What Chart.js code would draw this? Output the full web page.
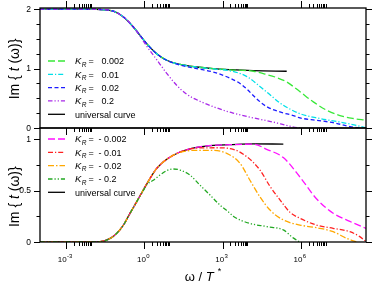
<!DOCTYPE html>
<html><head><meta charset="utf-8">
<script src="https://cdn.jsdelivr.net/npm/chart.js@4/dist/chart.umd.min.js"></script>
<style>
html,body{margin:0;padding:0;background:#fff;}
#wrap{position:relative;width:374px;height:283px;overflow:hidden;}
canvas{position:absolute;left:0;}
#c1{top:0;}
#c2{top:120px;}
</style></head><body>
<div id="wrap"><canvas id="c1" width="374" height="136"></canvas><canvas id="c2" width="374" height="163"></canvas></div>
<script>
// ---- axes ----
const xMinExp = -4, xMaxExp = 8.5;
const xMajorExp = [-3, 0, 3, 6];
const xTickLabelsExp = ['-3', '0', '3', '6'];
const topYTicks = [0, 1, 2];
const topYLabels = ['0', '1', '2'];
const botYTicks = [0, 0.5, 1];
const botYLabels = ['0', '0.5', '1'];
const yMinorStep = 0.25;

// ---- top panel (K_R > 0), x given as log10(omega/T*) ----
const uniTopExp = [-4, -2.5, -1.7, -1.19, -0.8, -0.42, -0.165, 0.09, 0.475, 0.86, 1.37, 2.01, 2.64, 3.28, 4.18, 5.46];
const uniTopVal = [2.0, 2.0, 1.995, 1.966, 1.87, 1.70, 1.56, 1.42, 1.25, 1.14, 1.07, 1.027, 1.0, 0.983, 0.966, 0.955];

const kp002Exp = [-4, -2.5, -1.7, -1.19, -0.8, -0.42, -0.165, 0.09, 0.475, 0.86, 1.37, 2.01, 2.64, 3.28, 4.18, 4.69, 5.07, 5.46, 5.97, 6.48, 6.99, 7.5, 8.01, 8.5];
const kp002Val = [2.0, 2.0, 1.995, 1.966, 1.87, 1.70, 1.56, 1.42, 1.25, 1.14, 1.07, 1.027, 1.0, 0.98, 0.955, 0.90, 0.85, 0.775, 0.61, 0.44, 0.30, 0.21, 0.16, 0.13];

const kp01Exp = [-4, -2.5, -1.7, -1.19, -0.8, -0.42, -0.165, 0.09, 0.475, 0.86, 1.37, 2.01, 2.64, 3.28, 3.92, 4.43, 4.82, 5.2, 5.58, 5.97, 6.73, 7.5, 8.26, 8.5];
const kp01Val = [2.0, 2.0, 1.995, 1.966, 1.87, 1.70, 1.56, 1.42, 1.25, 1.14, 1.07, 1.025, 0.995, 0.963, 0.87, 0.70, 0.56, 0.42, 0.32, 0.24, 0.16, 0.10, 0.03, 0.0];

const kp02Exp = [-4, -2.5, -1.7, -1.19, -0.8, -0.42, -0.165, 0.09, 0.475, 0.86, 1.37, 2.01, 2.64, 3.28, 3.67, 3.92, 4.31, 4.69, 5.2, 5.71, 5.97, 6.6, 7.24, 7.88, 8.39, 8.5];
const kp02Val = [2.0, 2.0, 1.995, 1.966, 1.87, 1.70, 1.56, 1.42, 1.25, 1.14, 1.06, 1.0, 0.943, 0.84, 0.75, 0.66, 0.49, 0.36, 0.27, 0.21, 0.17, 0.13, 0.09, 0.025, -0.01, -0.02];

const kp2Exp = [-4, -2.5, -1.7, -1.19, -0.8, -0.42, -0.165, 0.09, 0.475, 0.86, 1.24, 1.62, 2.13, 2.64, 3.16, 3.41, 4.18, 4.94, 5.58, 5.97, 6.5, 7.0];
const kp2Val = [2.0, 2.0, 1.995, 1.966, 1.87, 1.70, 1.55, 1.38, 1.15, 0.92, 0.72, 0.57, 0.45, 0.36, 0.28, 0.25, 0.17, 0.10, 0.03, 0.0, -0.03, -0.05];

// ---- bottom panel (K_R < 0) ----
const uniBotExp = [-4, -2.5, -1.7, -1.31, -1.06, -0.8, -0.55, -0.29, -0.04, 0.22, 0.475, 0.86, 1.37, 2.01, 2.64, 3.28, 4.18, 5.33];
const uniBotVal = [0, 0.0, 0.003, 0.035, 0.084, 0.165, 0.278, 0.392, 0.505, 0.618, 0.715, 0.803, 0.874, 0.919, 0.939, 0.945, 0.952, 0.951];

const km002Exp = [-4, -2.5, -1.7, -1.31, -1.06, -0.8, -0.55, -0.29, -0.04, 0.22, 0.475, 0.86, 1.37, 2.01, 2.64, 3.28, 4.18, 4.69, 5.33, 5.97, 6.6, 7.24, 7.88, 8.52];
const km002Val = [0, 0.0, 0.003, 0.035, 0.084, 0.165, 0.278, 0.392, 0.505, 0.618, 0.715, 0.803, 0.874, 0.919, 0.939, 0.945, 0.95, 0.90, 0.82, 0.63, 0.42, 0.28, 0.20, 0.13];

const km01Exp = [-4, -2.5, -1.7, -1.31, -1.06, -0.8, -0.55, -0.29, -0.04, 0.22, 0.475, 0.86, 1.37, 2.01, 2.77, 3.41, 3.92, 4.43, 4.82, 5.2, 5.58, 5.97, 6.6, 7.24, 7.88, 8.26, 8.52];
const km01Val = [0, 0.0, 0.003, 0.035, 0.084, 0.165, 0.278, 0.392, 0.505, 0.618, 0.715, 0.803, 0.873, 0.912, 0.915, 0.90, 0.83, 0.70, 0.54, 0.41, 0.29, 0.23, 0.165, 0.133, 0.10, 0.052, 0.0];

const km02Exp = [-4, -2.5, -1.7, -1.31, -1.06, -0.8, -0.55, -0.29, -0.04, 0.22, 0.475, 0.86, 1.37, 2.01, 2.64, 3.16, 3.67, 4.05, 4.43, 4.82, 5.33, 5.97, 6.73, 7.24, 7.75, 8.14];
const km02Val = [0, 0.0, 0.003, 0.035, 0.084, 0.165, 0.278, 0.392, 0.505, 0.618, 0.715, 0.803, 0.870, 0.89, 0.89, 0.861, 0.764, 0.60, 0.44, 0.31, 0.214, 0.165, 0.133, 0.10, 0.036, 0.0];

const km2Exp = [-4, -2.5, -1.7, -1.31, -1.06, -0.8, -0.55, -0.29, -0.04, 0.09, 0.345, 0.60, 0.86, 1.11, 1.37, 1.75, 2.13, 2.52, 2.90, 3.28, 3.41, 4.05, 4.69, 5.33, 5.71, 5.97, 6.5];
const km2Val = [0, 0.0, 0.003, 0.035, 0.084, 0.165, 0.278, 0.392, 0.50, 0.555, 0.60, 0.65, 0.693, 0.709, 0.699, 0.65, 0.553, 0.456, 0.359, 0.28, 0.25, 0.18, 0.15, 0.117, 0.04, 0.0, -0.03];

const topLegend = ['0.002', '0.01', '0.02', '0.2'];
const botLegend = ['- 0.002', '- 0.01', '- 0.02', '- 0.2'];

const FONT = '"Liberation Sans", Arial, Helvetica, sans-serif';

function pts(ex, vals) { return ex.map((e, i) => ({ x: Math.pow(10, e), y: vals[i] })); }
function ds(ex, vals, color, dash, order) {
  return { data: pts(ex, vals), borderColor: color, borderWidth: 1.3, borderDash: dash,
    pointRadius: 0, fill: false, cubicInterpolationMode: 'monotone', order: order };
}

function drawParts(ctx, parts, x, y, align) {
  let total = 0;
  parts.forEach(p => { ctx.font = p.font; p.w = ctx.measureText(p.t).width; total += p.w + (p.gap || 0); });
  let cx = align === 'center' ? x - total / 2 : (align === 'right' ? x - total : x);
  ctx.textAlign = 'left';
  parts.forEach(p => { ctx.font = p.font; ctx.fillText(p.t, cx + (p.gap || 0), y + (p.dy || 0)); cx += p.w + (p.gap || 0); });
}

function makeAxesPlugin(cfg) {
  return {
    id: 'axesFrame' + cfg.name,
    afterDatasetsDraw(chart) {
      const ctx = chart.ctx, a = chart.chartArea;
      const xs = chart.scales.x, ys = chart.scales.y;
      ctx.save();
      ctx.strokeStyle = '#000'; ctx.fillStyle = '#000';
      ctx.lineWidth = 1.3;
      ctx.strokeRect(a.left, a.top, a.right - a.left, a.bottom - a.top);
      ctx.lineWidth = 1;
      // x ticks
      const xt = [];
      xMajorExp.forEach(e => {
        xt.push({ v: Math.pow(10, e), len: 7 });
        for (let m = 2; m <= 9; m++) xt.push({ v: m * Math.pow(10, e), len: 4 });
      });
      ctx.beginPath();
      xt.forEach(t => {
        const px = Math.round(xs.getPixelForValue(t.v)) + 0.5;
        if (cfg.xTop) { ctx.moveTo(px, a.top); ctx.lineTo(px, a.top - t.len); }
        ctx.moveTo(px, a.bottom); ctx.lineTo(px, a.bottom + t.len);
      });
      // y ticks
      for (let v = 0; v <= cfg.ymax + 1e-9; v += yMinorStep) {
        const major = cfg.yTicks.some(t => Math.abs(t - v) < 1e-9);
        const len = major ? 6 : 3.5;
        const py = Math.round(ys.getPixelForValue(v)) + 0.5;
        ctx.moveTo(a.left, py); ctx.lineTo(a.left - len, py);
        ctx.moveTo(a.right, py); ctx.lineTo(a.right + len, py);
      }
      ctx.stroke();
      // y labels
      ctx.font = '8.5px ' + FONT; ctx.textAlign = 'right'; ctx.textBaseline = 'middle';
      cfg.yTicks.forEach((v, i) => ctx.fillText(cfg.yLabels[i], a.left - 9, ys.getPixelForValue(v) + 0.5));
      ctx.textBaseline = 'alphabetic';
      // x labels
      if (cfg.xLabels) {
        xMajorExp.forEach((e, i) => {
          const px = xs.getPixelForValue(Math.pow(10, e));
          drawParts(ctx, [
            { t: '10', font: '8px ' + FONT },
            { t: xTickLabelsExp[i], font: '6px ' + FONT, dy: -4, gap: 0.3 }
          ], px - 1, a.bottom + 20.3, 'center');
        });
        // x title
        drawParts(ctx, [
          { t: 'ω / ', font: '13px ' + FONT },
          { t: 'T', font: 'italic 13px ' + FONT },
          { t: '*', font: '9px ' + FONT, dy: -7, gap: 4 }
        ], 203, a.bottom + 39, 'center');
      }
      // y title
      ctx.save();
      ctx.translate(18.5, cfg.titleY);
      ctx.rotate(-Math.PI / 2);
      drawParts(ctx, [
        { t: 'Im { ', font: '14px ' + FONT },
        { t: 't', font: 'italic 14px ' + FONT },
        { t: ' (ω)}', font: '14px ' + FONT }
      ], 0, 0, 'center');
      ctx.restore();
      // legend
      const items = cfg.legend;
      items.forEach((it, i) => {
        const y = cfg.legendY[i];
        ctx.beginPath();
        ctx.strokeStyle = it.color; ctx.lineWidth = 1.3;
        ctx.setLineDash(it.dash || []);
        ctx.moveTo(48, y); ctx.lineTo(65, y); ctx.stroke();
        ctx.setLineDash([]);
        ctx.fillStyle = '#000';
        if (it.label) {
          drawParts(ctx, [{ t: it.label, font: '9px ' + FONT }], 75, y + 3.2, 'left');
        } else {
          drawParts(ctx, [
            { t: 'K', font: 'italic 9.5px ' + FONT },
            { t: 'R', font: 'italic 6.5px ' + FONT, dy: 2.5, gap: 0.3 }
          ], 75, y + 3.2, 'left');
          ctx.font = '9px ' + FONT; ctx.textAlign = 'left';
          ctx.fillText('=', 88.5, y + 3.2);
          ctx.fillText(it.value, cfg.valX, y + 3.2);
        }
      });
      ctx.restore();
    }
  };
}

const dashLong = [7, 3], dashDot = [5, 2, 1.2, 2], dashShort = [4, 2.5], dashDotDot = [4.5, 2, 1.2, 2, 1.2, 2];
const dashDotO = [6, 2, 1.5, 2];

const common = (padTop, padBottom, ymax) => ({
  responsive: false, animation: false,
  layout: { padding: { left: 40, right: 8, top: padTop, bottom: padBottom } },
  plugins: { legend: { display: false }, tooltip: { enabled: false } },
  scales: {
    x: { type: 'logarithmic', min: Math.pow(10, xMinExp), max: Math.pow(10, xMaxExp), display: false },
    y: { type: 'linear', min: 0, max: ymax, display: false }
  }
});

const topColors = ['#39e839', '#00e0e8', '#1c1cff', '#a828e8'];
new Chart(document.getElementById('c1'), {
  type: 'line',
  data: { datasets: [
    ds(kp2Exp, kp2Val, topColors[3], dashDotDot, 0),
    ds(kp02Exp, kp02Val, topColors[2], dashShort, 1),
    ds(kp01Exp, kp01Val, topColors[1], dashDot, 2),
    ds(kp002Exp, kp002Val, topColors[0], dashLong, 3),
    ds(uniTopExp, uniTopVal, '#000000', [], 4)
  ] },
  options: common(8, 8, 2.02),
  plugins: [makeAxesPlugin({
    name: 'top', xTop: true, xLabels: false, ymax: 2.02, yTicks: topYTicks, yLabels: topYLabels, titleY: 69,
    valX: 101.5,
    legendY: [61, 74.3, 87.6, 100.9, 114.3],
    legend: [
      { color: topColors[0], dash: dashLong, value: topLegend[0] },
      { color: topColors[1], dash: dashDot, value: topLegend[1] },
      { color: topColors[2], dash: dashShort, value: topLegend[2] },
      { color: topColors[3], dash: dashDotDot, value: topLegend[3] },
      { color: '#000', dash: [], label: 'universal curve' }
    ]
  })]
});

const botColors = ['#ff10ff', '#ff2020', '#ffa800', '#22a822'];
new Chart(document.getElementById('c2'), {
  type: 'line',
  data: { datasets: [
    ds(km2Exp, km2Val, botColors[3], dashDotDot, 0),
    ds(km02Exp, km02Val, botColors[2], dashDotO, 1),
    ds(km01Exp, km01Val, botColors[1], dashDot, 2),
    ds(km002Exp, km002Val, botColors[0], dashLong, 3),
    ds(uniBotExp, uniBotVal, '#000000', [], 4)
  ] },
  options: common(8, 41, 1.107),
  plugins: [makeAxesPlugin({
    name: 'bot', xTop: false, xLabels: true, ymax: 1.107, yTicks: botYTicks, yLabels: botYLabels, titleY: 76.7,
    valX: 98.5,
    legendY: [19, 32.3, 45.7, 59, 72.3],
    legend: [
      { color: botColors[0], dash: dashLong, value: botLegend[0] },
      { color: botColors[1], dash: dashDot, value: botLegend[1] },
      { color: botColors[2], dash: dashDotO, value: botLegend[2] },
      { color: botColors[3], dash: dashDotDot, value: botLegend[3] },
      { color: '#000', dash: [], label: 'universal curve' }
    ]
  })]
});
</script>
</body></html>
